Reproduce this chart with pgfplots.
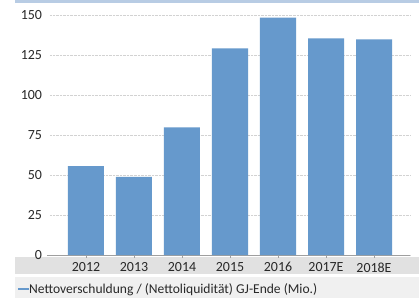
\documentclass[border=0pt]{standalone}
\usepackage{fontspec}
\setmainfont{Carlito}
\usepackage{pgfplots}
\pgfplotsset{compat=1.18}
\definecolor{barblue}{RGB}{102,153,204}
\definecolor{topband}{RGB}{184,204,228}
\definecolor{tickband}{RGB}{225,225,225}
\definecolor{legband}{RGB}{240,240,240}
\definecolor{txt}{RGB}{40,40,40}
\begin{document}
\begin{tikzpicture}
\path[use as bounding box, fill=white] (-50bp,-43bp) rectangle (369bp,255bp);
\fill[topband] (-35bp,252bp) rectangle (369bp,255bp);
\fill[tickband] (-35bp,-19bp) rectangle (369bp,-2bp);
\fill[legband] (-35bp,-43bp) rectangle (369bp,-22bp);
\begin{axis}[
  at={(0,0)}, anchor=south west,
  scale only axis,
  width=360bp, height=240bp,
  xmin=-0.75, xmax=6.75,
  ymin=0, ymax=150,
  ytick={0,25,50,75,100,125,150},
  xtick={0,1,2,3,4,5,6},
  xticklabels={2012,2013,2014,2015,2016,2017E,2018E},
  separate axis lines,
  axis x line*=bottom,
  axis y line*=left,
  x axis line style={draw=gray!75, line width=0.8pt, shorten <=-3bp, -},
  y axis line style={draw=none},
  ymajorgrids,
  grid style={densely dotted, gray!35, line width=0.6pt},
  tick style={draw=gray!75},
  ytick style={draw=none},
  xtick style={line width=0.6pt},
  tick align=outside,
  major tick length=2.5bp,
  /pgf/number format/assume math mode=true,
  tick label style={font=\fontsize{14}{16}\selectfont, text=txt},
  yticklabel style={xshift=-2bp},
  xticklabel style={yshift=-1.5bp, text depth=0pt},
  legend style={draw=none, fill=none, inner sep=0pt, at={(-0.0917,-0.1417)}, anchor=west,
     font=\fontsize{13.6}{15}\selectfont, text=txt},
  legend cell align=left,
  legend image code/.code={\draw[barblue, line width=2pt] (0bp,0bp) -- (11bp,0bp);},
  ]
\addplot[ybar, bar width=36bp, fill=barblue, draw=none] coordinates {
  (0,55.6) (1,48.9) (2,79.8) (3,129.2) (4,148.3) (5,135.4) (6,134.8)
};
\addlegendentry{\hspace{-3bp}Nettoverschuldung / (Nettoliquidität) GJ-Ende (Mio.)}
\end{axis}
\end{tikzpicture}
\end{document}
